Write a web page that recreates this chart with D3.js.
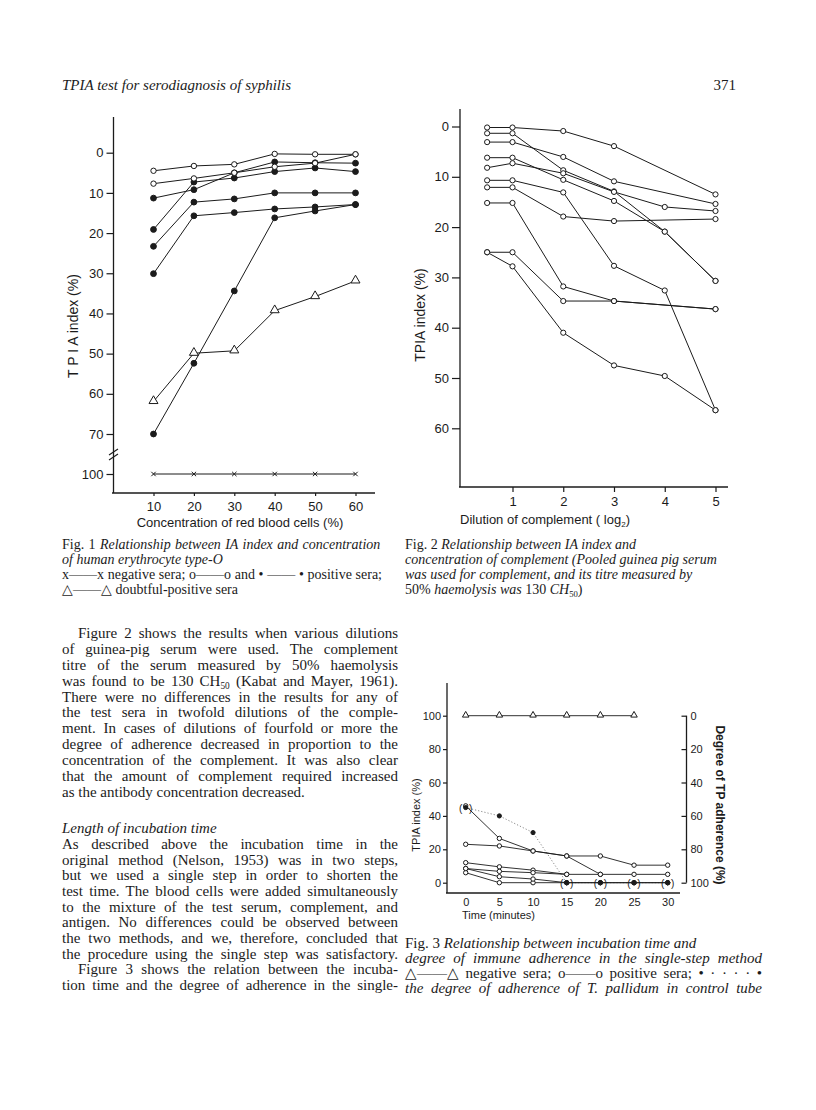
<!DOCTYPE html>
<html>
<head>
<meta charset="utf-8">
<script src="https://cdn.jsdelivr.net/npm/d3@7"></script>
<style>
  body { margin: 0; background: #fff; }
  svg { display: block; }
</style>
</head>
<body>
<div id="page"></div>
<script>
// ---- Fig. 1 : TPIA index vs concentration of red blood cells ----
const fig1Conc = [10, 20, 30, 40, 50, 60];
const fig1Open = [
  [4.5, 3.3, 2.9, 0.3, 0.4, 0.4],
  [7.7, 6.4, 5.0, 3.5, 2.6, 0.4]
];
const fig1Filled = [
  [11.3, 9.2, 5.0, 2.3, 2.5, 2.6],
  [19.1, 7.3, 6.3, 4.7, 3.8, 4.7],
  [23.3, 12.3, 11.5, 10.0, 10.0, 10.0],
  [30.1, 15.7, 14.9, 14.0, 13.5, 12.9],
  [70.0, 52.4, 34.4, 16.2, 14.5, 12.9]
];
const fig1Doubtful = [61.9, 49.9, 49.3, 39.3, 35.8, 31.9];
const fig1Negative = [100, 100, 100, 100, 100, 100];
const fig1YTicks = [0, 10, 20, 30, 40, 50, 60, 70, 100];

// ---- Fig. 2 : TPIA index vs dilution of complement ----
const fig2Dilution = [0.5, 1, 2, 3, 4, 5];
const fig2Series = [
  [0.2, 0.2, 0.9, 3.9, null, 13.5],
  [1.35, 1.35, 8.7, 12.9, 20.9, 30.7],
  [3.1, 3.1, 6.05, 10.9, null, 15.4],
  [6.2, 6.2, 10.6, 14.8, 20.9, 30.7],
  [8.2, 7.3, 9.3, 13.0, 16.0, 16.8],
  [10.7, 10.7, 13.1, 27.7, 32.6, 56.4],
  [12.1, 12.1, 17.9, 18.8, null, 18.4],
  [15.2, 15.2, 31.8, 34.7, null, 36.3],
  [25.0, 25.0, 34.7, 34.7, null, 36.3],
  [25.0, 27.8, 41.0, 47.5, 49.6, 56.4]
];
const fig2YTicks = [0, 10, 20, 30, 40, 50, 60];
const fig2XTicks = [1, 2, 3, 4, 5];

// ---- Fig. 3 : incubation time ----
const fig3Time = [0, 5, 10, 15, 20, 25, 30];
const fig3Negative = [100, 100, 100, 100, 100, 100, null];
const fig3Positive = [
  [46, 26.5, 19, 16, 5, null, null],
  [23, 22, 19, 16, 16, 10.5, 10.5],
  [12, 9.5, 7.5, 5, 5, 5, 5],
  [8.5, 6.8, 6, 5, null, null, null],
  [6, 0, 0, 0, 0, 0, 0],
  [8.5, 3.6, 2.2, 0, 0, 0, 0]
];
// degree of adherence in control tube (right axis)
const fig3Control = [55, 60, 70, 100, 100, 100, 100];
const fig3YTicks = [0, 20, 40, 60, 80, 100];
const fig3XTicks = [0, 5, 10, 15, 20, 25, 30];

const INK = '#1b1b1b';
const SANS = '"Liberation Sans", Arial, sans-serif';
const SERIF = '"Liberation Serif", "Times New Roman", serif';

const svg = d3.select('#page').append('svg')
  .attr('width', 816).attr('height', 1110)
  .attr('viewBox', '0 0 816 1110');
svg.append('rect').attr('width', 816).attr('height', 1110).attr('fill', '#fff');

// helpers
function vline(g, x, y1, y2) {
  g.append('line').attr('x1', x).attr('x2', x).attr('y1', y1).attr('y2', y2)
    .attr('stroke', INK).attr('stroke-width', 1.3);
}
function hline(g, y, x1, x2) {
  g.append('line').attr('x1', x1).attr('x2', x2).attr('y1', y).attr('y2', y)
    .attr('stroke', INK).attr('stroke-width', 1.3);
}
function styleAxis(g, size) {
  g.select('.domain').remove();
  g.selectAll('line').attr('stroke', INK).attr('stroke-width', 1.2);
  g.selectAll('text').attr('fill', INK).style('font-family', SANS).style('font-size', size + 'px');
}
function rows(xs, ys) {
  return xs.map((x, i) => ({ x, y: ys[i] }));
}
function drawLine(g, xs, ys, x, y, opts = {}) {
  const line = d3.line().x(d => x(d.x)).y(d => y(d.y));
  g.append('path')
    .attr('d', line(rows(xs, ys).filter(d => d.y != null)))
    .attr('fill', 'none')
    .attr('stroke', opts.stroke || INK)
    .attr('stroke-width', opts.width || 1)
    .attr('stroke-dasharray', opts.dash || null);
}
function drawMarks(g, xs, ys, x, y, kind, r) {
  const pts = rows(xs, ys).filter(d => d.y != null);
  const sel = g.selectAll(null).data(pts).enter();
  if (kind === 'open' || kind === 'filled') {
    sel.append('circle')
      .attr('cx', d => x(d.x)).attr('cy', d => y(d.y)).attr('r', r)
      .attr('fill', kind === 'open' ? '#fff' : INK)
      .attr('stroke', INK).attr('stroke-width', 1);
  } else if (kind === 'tri') {
    sel.append('path')
      .attr('d', d3.symbol(d3.symbolTriangle, r * r * 3.2)())
      .attr('transform', d => `translate(${x(d.x)},${y(d.y) - 0.5})`)
      .attr('fill', '#fff').attr('stroke', INK).attr('stroke-width', 1);
  } else if (kind === 'x') {
    sel.append('path')
      .attr('d', `M${-r},${-r}L${r},${r}M${-r},${r}L${r},${-r}`)
      .attr('transform', d => `translate(${x(d.x)},${y(d.y)})`)
      .attr('stroke', INK).attr('stroke-width', 1);
  }
}
function addText(g, x, y, str, size, family, opts = {}) {
  const t = g.append('text').attr('x', x).attr('y', y)
    .attr('fill', INK).style('font-family', family).style('font-size', size + 'px')
    .style('font-style', opts.italic ? 'italic' : null)
    .attr('text-anchor', opts.anchor || null);
  // "_{..}" marks a subscript, "*..*" toggles italics
  let shift = 0;
  str.split(/(_\{[^}]*\})/).forEach(p => {
    if (p.startsWith('_{')) {
      t.append('tspan').attr('dy', 3).style('font-size', (size * 0.62) + 'px').text(p.slice(2, -1));
      shift = -3;
    } else if (p.length) {
      p.split(/(\*[^*]*\*)/).forEach(q => {
        if (!q.length) return;
        const ts = t.append('tspan')
          .style('font-style', q.startsWith('*') ? 'italic' : null)
          .text(q.startsWith('*') ? q.slice(1, -1) : q);
        if (shift) { ts.attr('dy', shift); shift = 0; }
      });
    }
  });
  if (opts.justify) {
    const w = t.node().getComputedTextLength();
    const n = (t.node().textContent.match(/ /g) || []).length;
    if (n) t.style('word-spacing', ((opts.justify - w) / n) + 'px');
  }
  return t;
}

// ================= Page header =================
addText(svg, 62, 90, 'TPIA test for serodiagnosis of syphilis', 15, SERIF, { italic: true, justify: 229 });
addText(svg, 736, 90, '371', 15, SERIF, { anchor: 'end' });

// ================= Fig. 1 =================
{
  const g = svg.append('g');
  const x = d3.scaleLinear().domain([10, 60]).range([153.5, 355.5]);
  const y = d3.scaleLinear().domain([0, 70, 100]).range([152.7, 434, 474]);

  vline(g, 113.5, 117, 493);
  hline(g, 493, 112, 375);

  const ya = g.append('g').attr('transform', 'translate(113.5,0)')
    .call(d3.axisLeft(y).tickValues(fig1YTicks).tickSize(7).tickPadding(3));
  styleAxis(ya, 13);
  const xa = g.append('g').attr('transform', 'translate(0,493)')
    .call(d3.axisBottom(x).tickValues(fig1Conc).tickSize(3).tickPadding(6));
  styleAxis(xa, 13);

  // axis break
  [452, 457].forEach(yy => g.append('line')
    .attr('x1', 109).attr('x2', 118).attr('y1', yy + 3).attr('y2', yy - 3)
    .attr('stroke', INK).attr('stroke-width', 1.2));

  drawLine(g, fig1Conc, fig1Negative, x, y);
  drawMarks(g, fig1Conc, fig1Negative, x, y, 'x', 2.2);
  drawLine(g, fig1Conc, fig1Doubtful, x, y);
  drawMarks(g, fig1Conc, fig1Doubtful, x, y, 'tri', 3.3);
  fig1Filled.forEach(s => drawLine(g, fig1Conc, s, x, y));
  fig1Open.forEach(s => drawLine(g, fig1Conc, s, x, y));
  fig1Filled.forEach(s => drawMarks(g, fig1Conc, s, x, y, 'filled', 2.9));
  fig1Open.forEach(s => drawMarks(g, fig1Conc, s, x, y, 'open', 2.7));

  addText(g, 240, 527, 'Concentration  of  red  blood  cells  (%)', 13, SANS, { anchor: 'middle' });
  addText(g, 0, 0, 'T P I A  index  (%)', 14, SANS, { anchor: 'middle' })
    .attr('transform', 'translate(78,326) rotate(-90)');
}

// ================= Fig. 2 =================
{
  const g = svg.append('g');
  const x = d3.scaleLinear().domain([1, 5]).range([512.5, 715.5]);
  const y = d3.scaleLinear().domain([0, 60]).range([126.5, 428.3]);

  vline(g, 460, 109, 487);
  hline(g, 487, 459, 728);

  const ya = g.append('g').attr('transform', 'translate(460,0)')
    .call(d3.axisLeft(y).tickValues(fig2YTicks).tickSize(8).tickPadding(3));
  styleAxis(ya, 13);
  const xa = g.append('g').attr('transform', 'translate(0,487)')
    .call(d3.axisBottom(x).tickValues(fig2XTicks).tickFormat(d3.format('d')).tickSize(5).tickPadding(5));
  styleAxis(xa, 13);

  fig2Series.forEach(s => drawLine(g, fig2Dilution, s, x, y));
  fig2Series.forEach(s => drawMarks(g, fig2Dilution, s, x, y, 'open', 2.6));

  addText(g, 460, 524, 'Dilution  of  complement  ( log_{2})', 13, SANS);
  addText(g, 0, 0, 'TPIA  index  (%)', 14, SANS, { anchor: 'middle' })
    .attr('transform', 'translate(425,315) rotate(-90)');
}

// ================= Fig. 3 =================
{
  const g = svg.append('g');
  const x = d3.scaleLinear().domain([0, 30]).range([465.7, 667.7]);
  const yL = d3.scaleLinear().domain([0, 100]).range([882.7, 715.7]);
  const yR = d3.scaleLinear().domain([0, 100]).range([715.7, 882.7]);

  vline(g, 447, 683, 893);
  hline(g, 893, 446, 680);
  vline(g, 686.5, 715.7, 882.7);

  const ya = g.append('g').attr('transform', 'translate(447,0)')
    .call(d3.axisLeft(yL).tickValues(fig3YTicks).tickSize(4).tickPadding(2));
  styleAxis(ya, 11);
  const yb = g.append('g').attr('transform', 'translate(686.5,0)')
    .call(d3.axisRight(yR).tickValues(fig3YTicks).tickSize(0).tickPadding(4));
  styleAxis(yb, 11);
  yb.selectAll('.tick').append('line').attr('x1', -5).attr('x2', 0)
    .attr('stroke', INK).attr('stroke-width', 1.2);
  const xa = g.append('g').attr('transform', 'translate(0,893)')
    .call(d3.axisBottom(x).tickValues(fig3XTicks).tickSize(0).tickPadding(5));
  styleAxis(xa, 11);

  drawLine(g, fig3Time, fig3Negative, x, yL, { width: 0.9 });
  drawMarks(g, fig3Time, fig3Negative, x, yL, 'tri', 2.4);

  drawLine(g, fig3Time, fig3Control, x, yR, { stroke: '#8a8a8a', width: 1, dash: '1.2,2' });
  fig3Positive.forEach(s => drawLine(g, fig3Time, s, x, yL, { width: 0.9 }));
  fig3Positive.forEach(s => drawMarks(g, fig3Time, s, x, yL, 'open', 2.2));
  drawMarks(g, fig3Time, fig3Control, x, yR, 'filled', 2.1);

  // bracketed control points
  const bracketed = fig3Time.map((t, i) => ({ t, v: fig3Control[i] })).filter((d, i) => i === 0 || d.v === 100);
  bracketed.forEach(d => {
    addText(g, x(d.t) - 5, yR(d.v) + 4, '(', 10, SANS, { anchor: 'middle' });
    addText(g, x(d.t) + 5, yR(d.v) + 4, ')', 10, SANS, { anchor: 'middle' });
  });

  addText(g, 462, 919, 'Time  (minutes)', 11, SANS);
  addText(g, 0, 0, 'TPIA  index  (%)', 11, SANS, { anchor: 'middle' })
    .attr('transform', 'translate(420,815) rotate(-90)');
  addText(g, 0, 0, 'Degree  of  TP  adherence  (%)', 12, SANS, { anchor: 'middle' })
    .style('font-weight', 'bold')
    .attr('transform', 'translate(716,805) rotate(90)');
}

// ================= Captions =================
const fig1Caption = [
  'Fig. 1   *Relationship between IA index and concentration*',
  '*of human erythrocyte type-O*',
  'x\u2014\u2014x negative sera; o\u2014\u2014o and \u2022 \u2014\u2014 \u2022 positive sera;',
  '\u25b3\u2014\u2014\u25b3 doubtful-positive sera'
];
const fig2Caption = [
  'Fig. 2   *Relationship between IA index and*',
  '*concentration of complement (Pooled guinea pig serum*',
  '*was used for complement, and its titre measured by*',
  '50% *haemolysis was* 130 *CH*_{50})'
];
const fig3Caption = [
  'Fig. 3   *Relationship between incubation time and*',
  '*degree of immune adherence in the single-step method*',
  '\u25b3\u2014\u2014\u25b3 negative sera; o\u2014\u2014o positive sera; \u2022 \u00b7 \u00b7 \u00b7 \u00b7 \u2022',
  '*the degree of adherence of T. pallidum in control tube*'
];
fig1Caption.forEach((s, i) => addText(svg, 62, 549 + i * 15, s, 14, SERIF,
  { justify: (i === 0 || i === 2) ? 320 : null }));
fig2Caption.forEach((s, i) => addText(svg, 405, 549 + i * 15, s, 14, SERIF));
fig3Caption.forEach((s, i) => addText(svg, 405, 948 + i * 15, s, 15, SERIF,
  { justify: i > 0 ? 357 : null }));

// ================= Body text (left column) =================
const para1 = [
  'Figure 2 shows the results when various dilutions',
  'of guinea-pig serum were used. The complement',
  'titre of the serum measured by 50% haemolysis',
  'was found to be 130 CH_{50} (Kabat and Mayer, 1961).',
  'There were no differences in the results for any of',
  'the test sera in twofold dilutions of the comple-',
  'ment. In cases of dilutions of fourfold or more the',
  'degree of adherence decreased in proportion to the',
  'concentration of the complement. It was also clear',
  'that the amount of complement required increased',
  'as the antibody concentration decreased.'
];
const para2 = [
  'As described above the incubation time in the',
  'original method (Nelson, 1953) was in two steps,',
  'but we used a single step in order to shorten the',
  'test time. The blood cells were added simultaneously',
  'to the mixture of the test serum, complement, and',
  'antigen. No differences could be observed between',
  'the two methods, and we, therefore, concluded that',
  'the procedure using the single step was satisfactory.',
  'Figure 3 shows the relation between the incuba-',
  'tion time and the degree of adherence in the single-'
];
const LEFT = 62, RIGHT = 398;
para1.forEach((s, i) => {
  const indent = i === 0 ? 16 : 0;
  addText(svg, LEFT + indent, 638.2 + i * 15.83, s, 15, SERIF,
    { justify: i < para1.length - 1 ? RIGHT - LEFT - indent : null });
});
addText(svg, LEFT, 833, 'Length of incubation time', 15, SERIF, { italic: true });
para2.forEach((s, i) => {
  const indent = i === 8 ? 16 : 0;
  addText(svg, LEFT + indent, 849 + i * 15.67, s, 15, SERIF,
    { justify: RIGHT - LEFT - indent });
});
</script>
</body>
</html>
